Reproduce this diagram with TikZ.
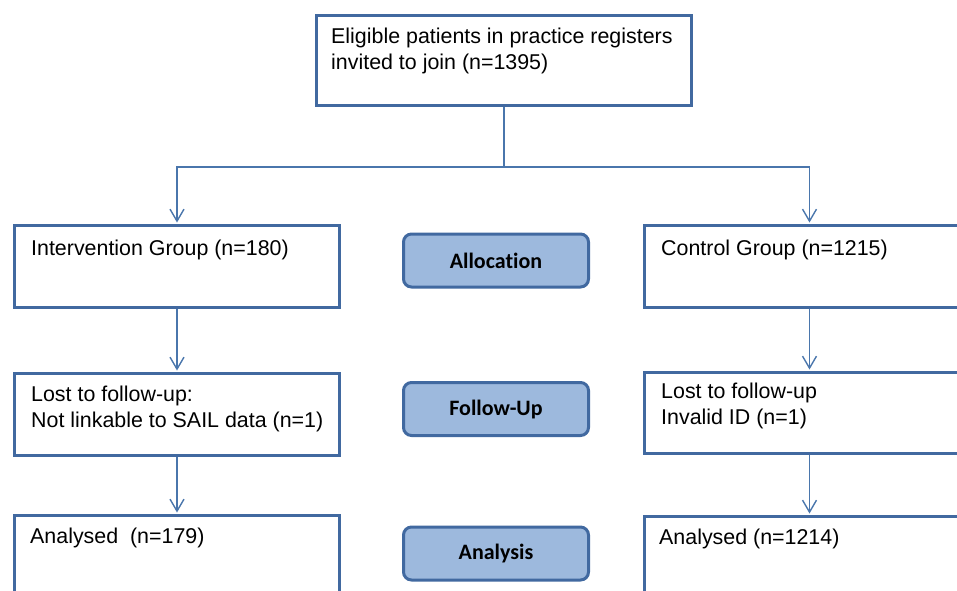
\documentclass[tikz,border=0pt]{standalone}
\usepackage{fontspec}
\setmainfont{Liberation Sans}
\newfontfamily\stagefont[Ligatures=NoCommon]{Carlito}
\usetikzlibrary{arrows.meta}
\definecolor{boxblue}{HTML}{4169A0}
\definecolor{linkblue}{HTML}{4A76AC}
\definecolor{stagefill}{HTML}{9DB9DD}
\tikzset{
	flowbox/.style={draw=boxblue, line width=3pt, anchor=north west, inner sep=0pt},
	flowtext/.style={anchor=base west, align=left, inner sep=0pt, font=\fontsize{21.4}{26.5}\selectfont},
	stagebox/.style={draw=boxblue, line width=3pt, fill=stagefill, rounded corners=8pt, minimum width=185pt, minimum height=53pt, font=\stagefont\bfseries\fontsize{22}{26}\selectfont},
	link/.style={draw=linkblue, line width=1.4pt, shorten >=1.5pt, -{Straight Barb[length=12pt,width=14pt]}}
}

\begin{document}
\begin{tikzpicture}[x=1pt, y=-1pt]
			%%%%% START %%%%%
			\clip (0, 0) rectangle (957, 590);
			
			% base of a two-line node is its last line
			\node[flowbox, minimum width=375pt, minimum height=90pt] (elig) at (315, 14) {};
			\node[flowtext] (eligtxt) at ([shift={(16, 55.5)}]elig.north west) {Eligible patients in practice registers\\invited to join (n=1395)};
			
			% allocation row
			\node[flowbox, minimum width=325pt, minimum height=82pt] (intv) at (13, 224) {};
			\node[flowtext] (intvtxt) at ([shift={(18, 31)}]intv.north west) {Intervention Group (n=180)};
			\node[flowbox, minimum width=330pt, minimum height=82pt] (ctrl) at (643, 224) {};
			\node[flowtext] (ctrltxt) at ([shift={(18, 31)}]ctrl.north west) {Control Group (n=1215)};
			\node[stagebox] (alloc) at (496, 260.5) {Allocation};
			
			% follow-up row
			\node[flowbox, minimum width=325pt, minimum height=82pt] (lostl) at (13, 372) {};
			\node[flowtext] (lostltxt) at ([shift={(18, 55.5)}]lostl.north west) {Lost to follow-up:\\Not linkable to SAIL data (n=1)};
			\node[flowbox, minimum width=330pt, minimum height=81pt] (lostr) at (643, 371) {};
			\node[flowtext] (lostrtxt) at ([shift={(18, 53.5)}]lostr.north west) {Lost to follow-up\\Invalid ID (n=1)};
			\node[stagebox] (follow) at (496, 409) {Follow-Up};
			
			% analysis row
			\node[flowbox, minimum width=325pt, minimum height=90pt] (anl) at (13, 514) {};
			\node[flowtext] (anltxt) at ([shift={(17, 29)}]anl.north west) {Analysed\ \ (n=179)};
			\node[flowbox, minimum width=330pt, minimum height=90pt] (anr) at (643, 515) {};
			\node[flowtext] (anrtxt) at ([shift={(16, 29)}]anr.north west) {Analysed (n=1214)};
			\node[stagebox] (analysis) at (496, 553.5) {Analysis};
			
			% connectors
			\path (elig.south) ++(0, 60) coordinate (split);
			\draw[link] (elig.south) -- (split) -| (intv.north);
			\draw[link] (split) -| (ctrl.north);
			\draw[link] (intv.south) -- (lostl.north);
			\draw[link] (lostl.south) -- (anl.north);
			\draw[link] (ctrl.south) -- (lostr.north);
			\draw[link] (lostr.south) -- (anr.north);
			%%%%% END %%%%%
\end{tikzpicture}
\end{document}
